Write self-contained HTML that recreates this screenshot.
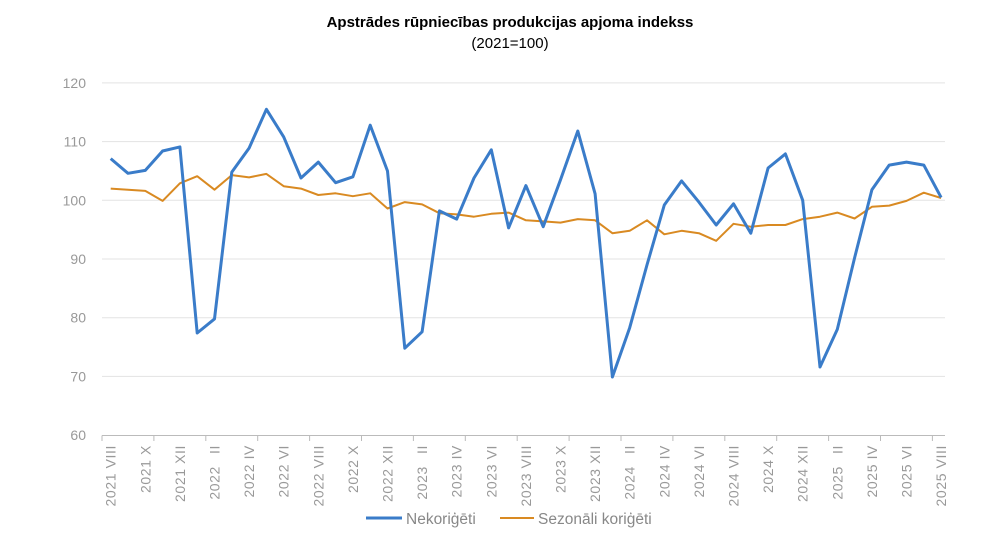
<!DOCTYPE html>
<html><head><meta charset="utf-8"><style>
html,body{margin:0;padding:0;background:#fff;}
svg{display:block;font-family:"Liberation Sans",sans-serif;}
</style></head><body>
<svg id="c" width="1000" height="535" viewBox="0 0 1000 535" xmlns="http://www.w3.org/2000/svg">
<text x="510" y="27" text-anchor="middle" font-size="15" font-weight="bold" fill="#000">Apstrādes rūpniecības produkcijas apjoma indekss</text>
<text x="510" y="48" text-anchor="middle" font-size="15" fill="#000">(2021=100)</text>
<g id="grid"></g>
<g id="lines"></g>
<g font-size="15.5" fill="#888">
<line x1="366" y1="518" x2="402" y2="518" stroke="#3a7cc9" stroke-width="3"/>
<text x="406" y="524">Nekoriģēti</text>
<line x1="500" y1="518" x2="534" y2="518" stroke="#d98a22" stroke-width="2"/>
<text x="538" y="524">Sezonāli koriģēti</text>
</g>
</svg>
<script>
var NS="http://www.w3.org/2000/svg";
function Y(v){return 200.3-(v-100)*5.87;}
function X(i){return 110.7+i*17.3;}
var g=document.getElementById('grid'),L=document.getElementById('lines');
function el(t,a,p,txt){var e=document.createElementNS(NS,t);for(var k in a)e.setAttribute(k,a[k]);if(txt)e.textContent=txt;p.appendChild(e);return e;}
for(var v=70;v<=120;v+=10){el('line',{x1:102,x2:945,y1:Y(v),y2:Y(v),stroke:'#e3e3e3','stroke-width':1},g);}
for(var v=60;v<=120;v+=10){el('text',{x:86,y:Y(v)+5,'text-anchor':'end','font-size':14,fill:'#999'},g,String(v));}
el('line',{x1:102,x2:945,y1:435.5,y2:435.5,stroke:'#bbb','stroke-width':1},g);
for(var t=0;t<=17;t++){var x=102+t*51.9;if(x>946)break;el('line',{x1:x,x2:x,y1:435.5,y2:441,stroke:'#bbb'},g);}
var rom=['I','II','III','IV','V','VI','VII','VIII','IX','X','XI','XII'];
for(var i=0;i<49;i+=2){var m=(7+i)%12,yr=2021+Math.floor((7+i)/12);
var lab=yr+' '+rom[m];if(m==1)lab=yr+'\u2002 II';
el('text',{x:0,y:0,transform:'translate('+(X(i)+5)+',445) rotate(-90)','text-anchor':'end','font-size':14,'letter-spacing':'0.6',fill:'#999'},g,lab);}
var b=[107.1,104.6,105.1,108.4,109.1,77.4,79.8,104.8,108.9,115.5,110.8,103.8,106.5,103,104,112.8,105,74.8,77.6,98.2,96.8,103.8,108.6,95.3,102.5,95.5,103.5,111.8,101.1,69.9,78.3,89,99.2,103.3,99.7,95.8,99.4,94.4,105.5,107.9,100,71.6,78,90.2,101.8,106,106.5,106,100.5];
var o=[102.0,101.8,101.6,99.9,102.9,104.1,101.8,104.3,103.9,104.5,102.4,102,100.9,101.2,100.7,101.2,98.6,99.7,99.3,97.8,97.6,97.2,97.7,97.9,96.6,96.4,96.2,96.8,96.6,94.4,94.8,96.6,94.2,94.8,94.4,93.1,96,95.5,95.8,95.8,96.8,97.2,97.9,96.9,98.9,99.1,99.9,101.3,100.4];
function pts(a){return a.map(function(v,i){return X(i).toFixed(1)+','+Y(v).toFixed(1)}).join(' ');}
el('polyline',{points:pts(o),fill:'none',stroke:'#d98a22','stroke-width':2,'stroke-linejoin':'round'},L);
el('polyline',{points:pts(b),fill:'none',stroke:'#3a7cc9','stroke-width':3,'stroke-linejoin':'round'},L);
</script>
</body></html>
